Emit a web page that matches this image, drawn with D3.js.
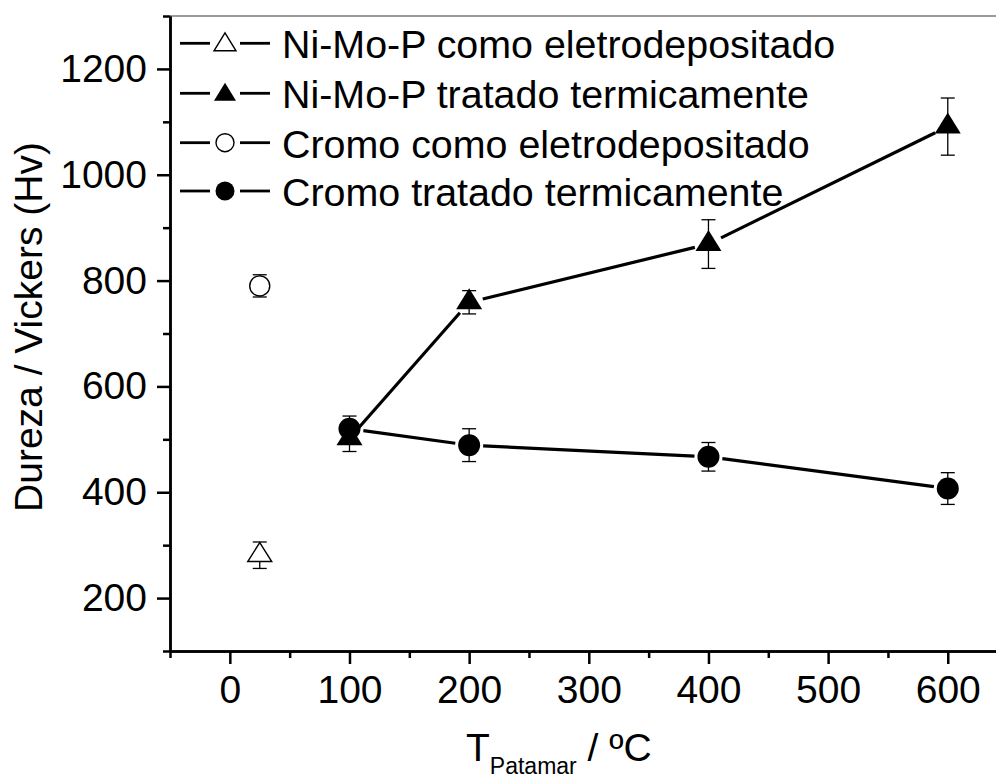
<!DOCTYPE html>
<html>
<head>
<meta charset="utf-8">
<script src="https://cdn.jsdelivr.net/npm/d3@7"></script>
<style>
  html, body { margin: 0; padding: 0; background: #fff; }
  svg { display: block; }
  text { font-family: "Liberation Sans", Arial, Helvetica, sans-serif; fill: #000; }
</style>
</head>
<body>
<svg id="chart" width="996" height="778"></svg>
<script>
// Heat-treatment temperatures (°C) and hardness (Hv) with error bars
const temps = [100, 200, 400, 600];
const nimopTreated = [502, 759, 869, 1091];
const nimopTreatedErr = [25, 22, 46, 54];
const cromoTreated = [520, 489, 467, 407];
const cromoTreatedErr = [24, 31, 27, 30];

// As-deposited samples (plotted at room temperature)
const asDepTemp = [25];
const nimopAsDep = [281];
const nimopAsDepErr = [25];
const cromoAsDep = [790];
const cromoAsDepErr = [21];

const xMajorTicks = [0, 100, 200, 300, 400, 500, 600];
const xMinorTicks = [-50, 50, 150, 250, 350, 450, 550, 650];
const yMajorTicks = [200, 400, 600, 800, 1000, 1200];
const yMinorTicks = [100, 300, 500, 700, 900, 1100, 1300];

const legendLabels = [
  "Ni-Mo-P como eletrodepositado",
  "Ni-Mo-P tratado termicamente",
  "Cromo como eletrodepositado",
  "Cromo tratado termicamente"
];

const svg = d3.select("#chart");

const x = d3.scaleLinear().domain([-50, 650]).range([170, 1007.6]);
const y = d3.scaleLinear().domain([100, 1300]).range([651, 16]);

// top frame line
svg.append("line")
  .attr("x1", 170).attr("x2", 1008)
  .attr("y1", y(1300)).attr("y2", y(1300))
  .attr("stroke", "#7a7a7a").attr("stroke-width", 1.5);

function styleAxis(g) {
  g.selectAll("path.domain").attr("stroke", "#000").attr("stroke-width", 2.5);
  g.selectAll(".tick line").attr("stroke", "#000").attr("stroke-width", 2.5);
  g.selectAll(".tick text")
    .style("font-family", '"Liberation Sans", Arial, sans-serif')
    .style("font-size", "39px").attr("fill", "#000");
}

// bottom axis
const gxMinor = svg.append("g").attr("transform", `translate(0,${y(100)})`)
  .call(d3.axisBottom(x).tickValues(xMinorTicks).tickSize(7).tickSizeOuter(0).tickFormat(""));
styleAxis(gxMinor);
const gx = svg.append("g").attr("transform", `translate(0,${y(100)})`)
  .call(d3.axisBottom(x).tickValues(xMajorTicks).tickSize(13).tickSizeOuter(0).tickPadding(11).tickFormat(d3.format("d")));
styleAxis(gx);

// left axis
const gyMinor = svg.append("g").attr("transform", `translate(${x(-50)},0)`)
  .call(d3.axisLeft(y).tickValues(yMinorTicks).tickSize(7).tickSizeOuter(0).tickFormat(""));
styleAxis(gyMinor);
const gy = svg.append("g").attr("transform", `translate(${x(-50)},0)`)
  .call(d3.axisLeft(y).tickValues(yMajorTicks).tickSize(13).tickSizeOuter(0).tickPadding(10).tickFormat(d3.format("d")));
styleAxis(gy);

// axis titles
svg.append("text")
  .attr("transform", "translate(42,327) rotate(-90)")
  .attr("text-anchor", "middle")
  .style("font-size", "39px")
  .text("Dureza / Vickers (Hv)");

const xt = svg.append("text").attr("x", 466).attr("y", 761).style("font-size", "39px");
xt.append("tspan").text("T");
xt.append("tspan").attr("dy", 13).style("font-size", "23px").text("Patamar");
xt.append("tspan").attr("dy", -13).text(" / ºC");

// marker shapes
const triPath = (w, h) => `M0,${-h * 2 / 3}L${w / 2},${h / 3}L${-w / 2},${h / 3}Z`;

function series(xs, ys) {
  return xs.map((t, i) => ({ px: x(t), py: y(ys[i]) }));
}

// connecting lines with small gaps around each marker
function drawGappedLine(pts, gap) {
  for (let i = 0; i < pts.length - 1; i++) {
    const a = pts[i], b = pts[i + 1];
    const dx = b.px - a.px, dy = b.py - a.py;
    const len = Math.hypot(dx, dy);
    const ux = dx / len, uy = dy / len;
    svg.append("line")
      .attr("x1", a.px + ux * gap).attr("y1", a.py + uy * gap)
      .attr("x2", b.px - ux * gap).attr("y2", b.py - uy * gap)
      .attr("stroke", "#000").attr("stroke-width", 3.2);
  }
}

function drawErrors(xs, ys, errs) {
  const g = svg.append("g").attr("stroke", "#000").attr("stroke-width", 1.3);
  xs.forEach((t, i) => {
    const cx = x(t), top = y(ys[i] + errs[i]), bot = y(ys[i] - errs[i]);
    g.append("line").attr("x1", cx).attr("x2", cx).attr("y1", top).attr("y2", bot);
    g.append("line").attr("x1", cx - 7).attr("x2", cx + 7).attr("y1", top).attr("y2", top);
    g.append("line").attr("x1", cx - 7).attr("x2", cx + 7).attr("y1", bot).attr("y2", bot);
  });
}

const nimopPts = series(temps, nimopTreated);
const cromoPts = series(temps, cromoTreated);

drawGappedLine(cromoPts, 14);
drawGappedLine(nimopPts, 14);

drawErrors(temps, cromoTreated, cromoTreatedErr);
drawErrors(temps, nimopTreated, nimopTreatedErr);
drawErrors(asDepTemp, nimopAsDep, nimopAsDepErr);
drawErrors(asDepTemp, cromoAsDep, cromoAsDepErr);

// markers
svg.selectAll(".tri-open").data(series(asDepTemp, nimopAsDep)).enter().append("path")
  .attr("d", triPath(24, 19)).attr("transform", d => `translate(${d.px},${d.py})`)
  .attr("fill", "#fff").attr("stroke", "#000").attr("stroke-width", 1.4);
svg.selectAll(".circ-open").data(series(asDepTemp, cromoAsDep)).enter().append("circle")
  .attr("cx", d => d.px).attr("cy", d => d.py).attr("r", 10)
  .attr("fill", "#fff").attr("stroke", "#000").attr("stroke-width", 1.4);
svg.selectAll(".tri-fill").data(nimopPts).enter().append("path")
  .attr("d", triPath(26, 21)).attr("transform", d => `translate(${d.px},${d.py})`)
  .attr("fill", "#000");
svg.selectAll(".circ-fill").data(cromoPts).enter().append("circle")
  .attr("cx", d => d.px).attr("cy", d => d.py).attr("r", 11)
  .attr("fill", "#000");

// legend
const legendRows = [43.3, 93.3, 142.7, 191];
const lg = svg.append("g");
legendRows.forEach((ry, i) => {
  lg.append("line").attr("x1", 180).attr("x2", 210).attr("y1", ry).attr("y2", ry)
    .attr("stroke", "#000").attr("stroke-width", 2.8);
  lg.append("line").attr("x1", 240).attr("x2", 270).attr("y1", ry).attr("y2", ry)
    .attr("stroke", "#000").attr("stroke-width", 2.8);
  const open = (i === 0 || i === 2);
  if (i < 2) {
    lg.append("path").attr("d", triPath(22, 18)).attr("transform", `translate(225,${ry + 1.5})`)
      .attr("fill", open ? "#fff" : "#000").attr("stroke", "#000").attr("stroke-width", open ? 1.4 : 0);
  } else {
    lg.append("circle").attr("cx", 225).attr("cy", ry).attr("r", open ? 9 : 9.5)
      .attr("fill", open ? "#fff" : "#000").attr("stroke", "#000").attr("stroke-width", open ? 1.4 : 0);
  }
  lg.append("text").attr("x", 282).attr("y", ry + 15).style("font-size", "39.4px").text(legendLabels[i]);
});
</script>
</body>
</html>
